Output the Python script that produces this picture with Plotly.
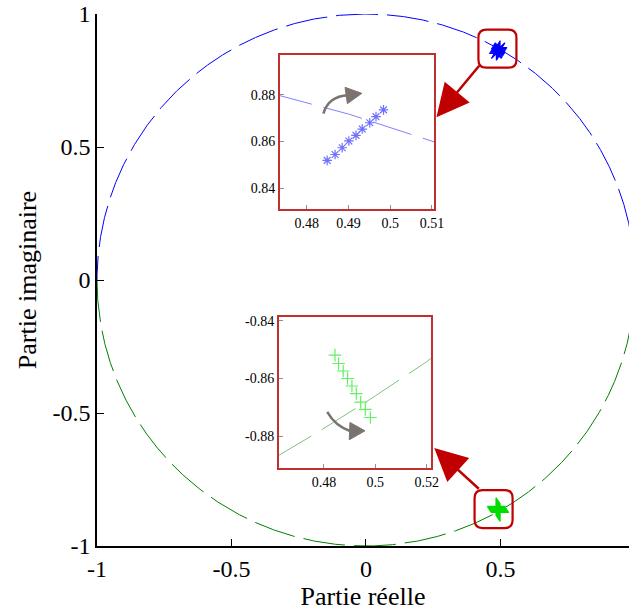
import numpy as np
import plotly.graph_objects as go

# ---- data ----
# unit circle (reference curve)
theta_up = np.linspace(0, np.pi, 2001)
theta_dn = np.linspace(np.pi, 2 * np.pi, 2001)
circle_up_x = np.cos(theta_up)
circle_up_y = np.sin(theta_up)
circle_dn_x = np.cos(theta_dn)
circle_dn_y = np.sin(theta_dn)

# upper pole trajectory (blue stars)
pole_up_re = [0.4849, 0.4868, 0.4885, 0.4901, 0.4918, 0.4933, 0.4951, 0.4966, 0.4984]
pole_up_im = [0.8519, 0.8544, 0.8573, 0.8602, 0.8626, 0.8653, 0.8680, 0.8706, 0.8735]
# lower pole trajectory (green plus)
pole_dn_re = [0.4843, 0.4857, 0.4875, 0.4892, 0.4909, 0.4926, 0.4943, 0.4961, 0.4981]
pole_dn_im = [-0.8519, -0.8548, -0.8574, -0.8600, -0.8626, -0.8652, -0.8682, -0.8707, -0.8735]

main_xticks = [-1, -0.5, 0, 0.5]
main_yticks = [-1, -0.5, 0, 0.5, 1]
ins1_xticks = [0.48, 0.49, 0.5, 0.51]
ins1_yticks = [0.84, 0.86, 0.88]
ins2_xticks = [0.48, 0.5, 0.52]
ins2_yticks = [-0.84, -0.86, -0.88]

FONT = "Liberation Serif"
BLUE = "#0000FF"
GREEN = "#008000"
RED = "#C00000"
GRAY = "#7a7370"

fig = go.Figure()

# main circle
fig.add_trace(go.Scatter(x=circle_up_x, y=circle_up_y, mode="lines",
                         line=dict(color=BLUE, width=1, dash="42px,9px"), xaxis="x", yaxis="y"))
fig.add_trace(go.Scatter(x=circle_dn_x, y=circle_dn_y, mode="lines",
                         line=dict(color=GREEN, width=1, dash="42px,9px"), xaxis="x", yaxis="y"))
fig.add_trace(go.Scatter(x=pole_up_re, y=pole_up_im, mode="markers",
                         marker=dict(symbol="asterisk-open", size=12, color=BLUE,
                                     line=dict(color=BLUE, width=1.2)), xaxis="x", yaxis="y"))
fig.add_trace(go.Scatter(x=pole_dn_re, y=pole_dn_im, mode="markers",
                         marker=dict(symbol="cross-thin-open", size=13, color="#00DD00",
                                     line=dict(color="#00DD00", width=1.5)), xaxis="x", yaxis="y"))

# inset 1
fig.add_trace(go.Scatter(x=circle_up_x, y=circle_up_y, mode="lines",
                         line=dict(color="#8080FF", width=1, dash="40px,12px"), xaxis="x2", yaxis="y2"))
fig.add_trace(go.Scatter(x=pole_up_re, y=pole_up_im, mode="markers",
                         marker=dict(symbol="asterisk-open", size=8, color="#7070FF",
                                     line=dict(color="#7070FF", width=1.2)), xaxis="x2", yaxis="y2"))
# inset 2
fig.add_trace(go.Scatter(x=circle_dn_x, y=circle_dn_y, mode="lines",
                         line=dict(color="#80C080", width=1, dash="40px,12px"), xaxis="x3", yaxis="y3"))
fig.add_trace(go.Scatter(x=pole_dn_re, y=pole_dn_im, mode="markers",
                         marker=dict(symbol="cross-thin-open", size=9, color="#60F060",
                                     line=dict(color="#60F060", width=1.2)), xaxis="x3", yaxis="y3"))

axis_font = dict(family=FONT, size=24, color="black")
title_font = dict(family=FONT, size=26, color="black")
inset_font = dict(family=FONT, size=14, color="black")

inset_common = dict(showgrid=False, zeroline=False, showline=True, mirror=True,
                    linecolor="#C03030", linewidth=2, ticks="inside", ticklen=4,
                    tickcolor="#909090", tickfont=inset_font, automargin=False)

fig.update_layout(
    width=630, height=614,
    margin=dict(l=97, r=1, t=14, b=68, autoexpand=False),
    paper_bgcolor="white", plot_bgcolor="white",
    showlegend=False,
    xaxis=dict(domain=[0, 1], range=[-1, 0.978], tickvals=main_xticks,
               ticktext=["-1", "-0.5", "0", "0.5"], automargin=False, ticklabeloverflow="allow",
               showgrid=False, zeroline=False, showline=True, linecolor="black", linewidth=1.5,
               ticks="inside", ticklen=7, tickcolor="black", tickfont=axis_font,
               title=dict(text="Partie réelle", font=title_font, standoff=2)),
    yaxis=dict(domain=[0, 1], range=[-1, 1], tickvals=main_yticks,
               ticktext=["-1", "-0.5", "0", "0.5", "1"], automargin=False, ticklabeloverflow="allow",
               showgrid=False, zeroline=False, showline=True, linecolor="black", linewidth=1.5,
               ticks="inside", ticklen=7, tickcolor="black", tickfont=axis_font,
               title=dict(text="Partie imaginaire", font=title_font, standoff=8)),
    xaxis2=dict(domain=[0.344, 0.6335], range=[0.4736, 0.5105], anchor="y2",
                tickvals=ins1_xticks, ticktext=["0.48", "0.49", "0.5", "0.51"], **inset_common),
    yaxis2=dict(domain=[0.6335, 0.923], range=[0.8311, 0.897], anchor="x2",
                tickvals=ins1_yticks, ticktext=["0.84", "0.86", "0.88"], **inset_common),
    xaxis3=dict(domain=[0.342, 0.628], range=[0.4625, 0.5217], anchor="y3",
                tickvals=ins2_xticks, ticktext=["0.48", "0.5", "0.52"], **inset_common),
    yaxis3=dict(domain=[0.147, 0.430], range=[-0.8909, -0.8388], anchor="x3",
                tickvals=ins2_yticks, ticktext=["-0.84", "-0.86", "-0.88"], **inset_common),
)

shapes = []
# inset backgrounds
for xr, yr in (("x2", "y2"), ("x3", "y3")):
    shapes.append(dict(type="rect", xref=f"{xr} domain", yref=f"{yr} domain",
                       x0=0, x1=1, y0=0, y1=1, fillcolor="#FDF4EE", line=dict(width=0),
                       layer="below"))

# rounded squares around the clusters (pixel sized)
def rounded(xa, ya):
    h, r = 19, 8
    p = (f"M{-h+r},{-h} L{h-r},{-h} Q{h},{-h} {h},{-h+r} L{h},{h-r} Q{h},{h} {h-r},{h} "
         f"L{-h+r},{h} Q{-h},{h} {-h},{h-r} L{-h},{-h+r} Q{-h},{-h} {-h+r},{-h} Z")
    return dict(type="path", xref="x", yref="y", xsizemode="pixel", ysizemode="pixel",
                xanchor=xa, yanchor=ya, path=p, line=dict(color=RED, width=2.2),
                fillcolor="rgba(0,0,0,0)", layer="above")

shapes.append(rounded(0.4888, 0.8696))
shapes.append(rounded(0.4745, -0.861))

# curved grey arrows in the insets
shapes.append(dict(type="path", xref="x2", yref="y2",
                   path="M0.48399,0.87187 Q0.48519,0.87929 0.48990,0.87972",
                   line=dict(color=GRAY, width=2.5), layer="above"))
shapes.append(dict(type="path", xref="x2", yref="y2",
                   path="M0.48918,0.88315 L0.49319,0.88057 L0.48974,0.87616 Z",
                   line=dict(color=GRAY, width=1), fillcolor=GRAY, layer="above"))
shapes.append(dict(type="path", xref="x3", yref="y3",
                   path="M0.48129,-0.87152 Q0.48429,-0.87637 0.49060,-0.87834",
                   line=dict(color=GRAY, width=2.5), layer="above"))
shapes.append(dict(type="path", xref="x3", yref="y3",
                   path="M0.49013,-0.87522 L0.49597,-0.87810 L0.48987,-0.88121 Z",
                   line=dict(color=GRAY, width=1), fillcolor=GRAY, layer="above"))
fig.update_layout(shapes=shapes)

# red arrows
fig.add_annotation(x=0.262, y=0.612, xref="x", yref="y", ax=44, ay=-53,
                   showarrow=True, arrowhead=2, arrowsize=2.6, arrowwidth=2.5,
                   arrowcolor=RED, text="")
fig.add_annotation(x=0.254, y=-0.632, xref="x", yref="y", ax=46, ay=42,
                   showarrow=True, arrowhead=2, arrowsize=2.6, arrowwidth=2.5,
                   arrowcolor=RED, text="")

fig.write_html("out.html", config={"displayModeBar": False},
               post_script="document.body.style.margin='0';document.body.style.overflow='hidden';")
